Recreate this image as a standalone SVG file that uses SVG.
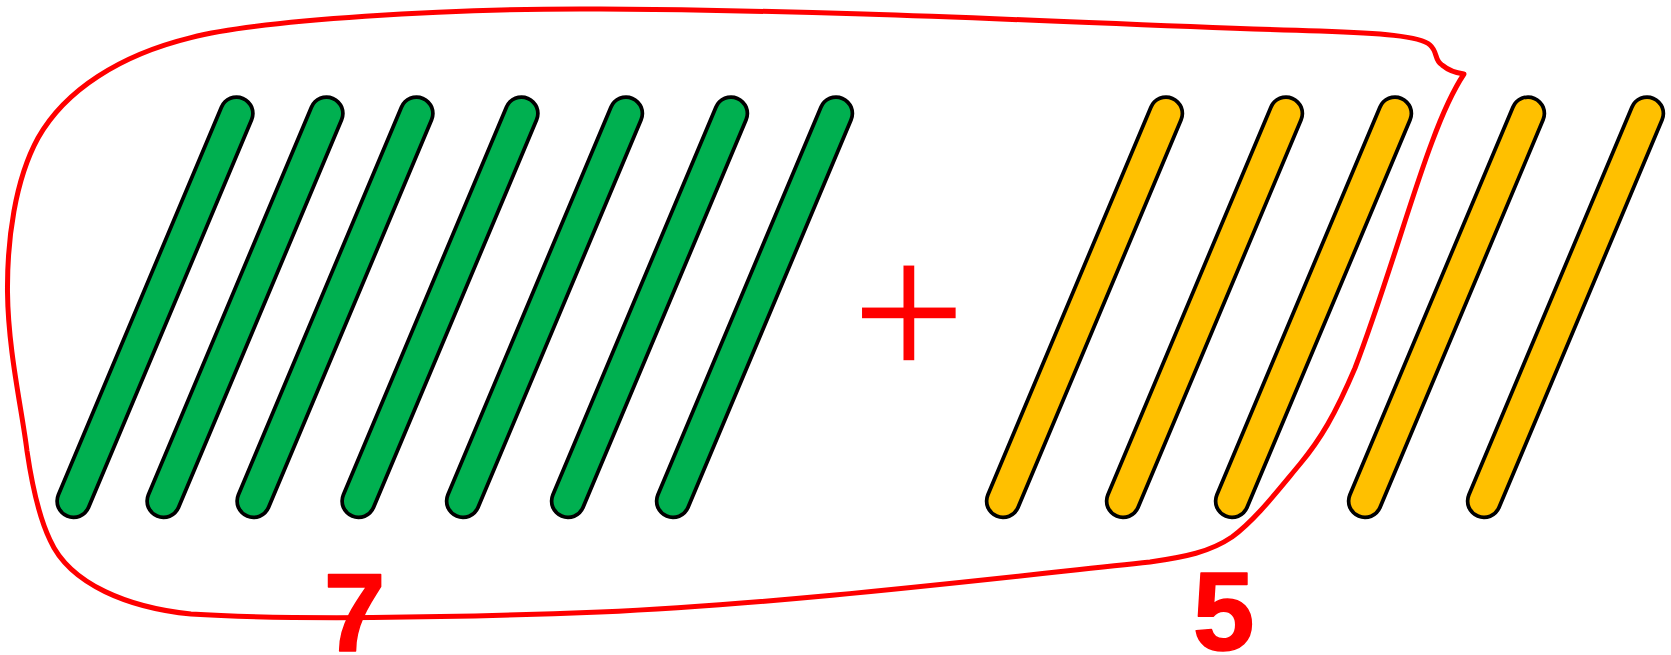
<svg xmlns="http://www.w3.org/2000/svg" width="1671" height="655" viewBox="0 0 1671 655">
<style>
.o{stroke:#000;stroke-width:36.5;stroke-linecap:round;fill:none}
.g{stroke:#00B050;stroke-width:29;stroke-linecap:round;fill:none}
.y{stroke:#FFC000;stroke-width:29;stroke-linecap:round;fill:none}
.num{font-family:"Liberation Sans",Arial,sans-serif;font-weight:bold;font-size:111px;fill:#FF0000;stroke:#FF0000;stroke-width:1.5;stroke-linejoin:round;text-anchor:middle}
.plus{font-family:"Liberation Sans",Arial,sans-serif;font-size:200px;fill:#FF0000;stroke:#FFFFFF;stroke-width:3.5;text-anchor:middle}
.loop{fill:none;stroke:#FF0000;stroke-width:5;stroke-linejoin:round;stroke-linecap:round}
</style>
<g id="green-sticks">
<g id="g1"><line class="o" x1="236.5" y1="113.5" x2="73.5" y2="501"/><line class="g" x1="236.5" y1="113.5" x2="73.5" y2="501"/></g>
<g id="g2"><line class="o" x1="326.5" y1="113.5" x2="163.5" y2="501"/><line class="g" x1="326.5" y1="113.5" x2="163.5" y2="501"/></g>
<g id="g3"><line class="o" x1="416.5" y1="113.5" x2="253.5" y2="501"/><line class="g" x1="416.5" y1="113.5" x2="253.5" y2="501"/></g>
<g id="g4"><line class="o" x1="521.5" y1="113.5" x2="358.5" y2="501"/><line class="g" x1="521.5" y1="113.5" x2="358.5" y2="501"/></g>
<g id="g5"><line class="o" x1="626" y1="113.5" x2="463" y2="501"/><line class="g" x1="626" y1="113.5" x2="463" y2="501"/></g>
<g id="g6"><line class="o" x1="731" y1="113.5" x2="568" y2="501"/><line class="g" x1="731" y1="113.5" x2="568" y2="501"/></g>
<g id="g7"><line class="o" x1="836" y1="113.5" x2="673" y2="501"/><line class="g" x1="836" y1="113.5" x2="673" y2="501"/></g>
</g>
<g id="yellow-sticks">
<g id="y1"><line class="o" x1="1166" y1="113.5" x2="1003" y2="501"/><line class="y" x1="1166" y1="113.5" x2="1003" y2="501"/></g>
<g id="y2"><line class="o" x1="1286" y1="113.5" x2="1123" y2="501"/><line class="y" x1="1286" y1="113.5" x2="1123" y2="501"/></g>
<g id="y3"><line class="o" x1="1395" y1="113.5" x2="1232" y2="501"/><line class="y" x1="1395" y1="113.5" x2="1232" y2="501"/></g>
<g id="y4"><line class="o" x1="1528" y1="113.5" x2="1365" y2="501"/><line class="y" x1="1528" y1="113.5" x2="1365" y2="501"/></g>
<g id="y5"><line class="o" x1="1647" y1="113.5" x2="1484" y2="501"/><line class="y" x1="1647" y1="113.5" x2="1484" y2="501"/></g>
</g>
<g id="plus"><text class="plus" x="909" y="380">+</text></g>
<g id="group-loop">
<path class="loop" d="M 1464 74 C 1452 92, 1442 115, 1432 142 C 1410 200, 1385 290, 1355 368 C 1335 415, 1320 440, 1300 464 C 1275 494, 1255 520, 1232 537 C 1210 552, 1185 557, 1150 562 C 980 580, 780 604, 600 612 C 450 618, 280 620, 191 614 C 130 608, 70 585, 50 540 C 38 515, 32 485, 27 451 C 22 410, 8 350, 7.5 292 C 7 240, 15 180, 38 138 C 65 90, 120 55, 191 37.6 C 260 20, 450 8, 600 9 C 900 11, 1100 25, 1320 31 C 1380 33, 1420 36, 1430 45 C 1438 52, 1434 60, 1442 65 C 1448 70, 1456 73, 1464 74 Z"/>
</g>
<g id="label-7"><text class="num" x="354.5" y="651">7</text></g>
<g id="label-5"><text class="num" x="1223.5" y="650">5</text></g>
</svg>
